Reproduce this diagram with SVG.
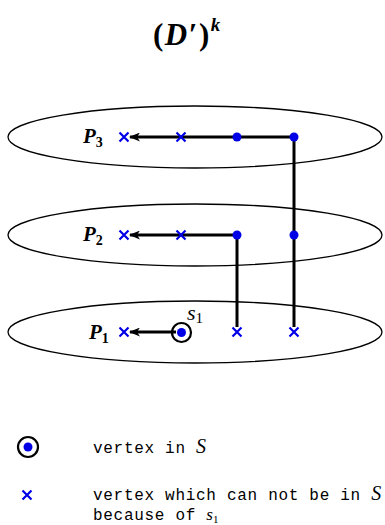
<svg xmlns="http://www.w3.org/2000/svg" width="385" height="525" viewBox="0 0 385 525">
<defs>
<style>
.plane{fill:none;stroke:#000;stroke-width:1.3}
.edge{fill:none;stroke:#000;stroke-width:3}
.dot{fill:#0000e6}
.x{stroke:#0000e6;stroke-width:2.2;fill:none}
.ring{fill:none;stroke:#000;stroke-width:2.2}
.lbl{font-family:"Liberation Serif",serif;font-style:italic;font-weight:bold;font-size:21px}
.sub{font-family:"Liberation Serif",serif;font-style:normal;font-weight:bold;font-size:14px}
.tt{font-family:"Liberation Mono",monospace;font-size:16px;letter-spacing:0.7px}
.it{font-family:"Liberation Serif",serif;font-style:italic;font-size:20px;letter-spacing:0}
</style>
<marker id="ah" viewBox="0 0 11 9" refX="10" refY="4.5" markerWidth="11" markerHeight="9" markerUnits="userSpaceOnUse" orient="auto">
<path d="M11,4.5 L0,0 L3,4.5 L0,9 Z" fill="#000"/>
</marker>
<path id="cx" d="M-4.5,-4.5 L4.5,4.5 M-4.5,4.5 L4.5,-4.5" class="x"/>
</defs>

<text x="153" y="45" font-family="Liberation Serif,serif" font-weight="bold" font-size="31" letter-spacing="1.5">(<tspan font-style="italic">D</tspan>′)<tspan font-style="italic" font-size="19" dy="-14">k</tspan></text>

<g id="plane3"><ellipse class="plane" cx="195" cy="137" rx="187" ry="31"/></g>
<g id="plane2"><ellipse class="plane" cx="195" cy="235" rx="187" ry="31"/></g>
<g id="plane1"><ellipse class="plane" cx="195" cy="332" rx="187" ry="31"/></g>

<g id="connectors">
<path class="edge" d="M294,137 L130,137" marker-end="url(#ah)"/>
<path class="edge" d="M294,137 L294,327"/>
<path class="edge" d="M237,235 L130,235" marker-end="url(#ah)"/>
<path class="edge" d="M237,235 L237,327"/>
<path class="edge" d="M176,332 L130,332" marker-end="url(#ah)"/>
</g>

<g id="P3"><text class="lbl" x="83" y="143">P<tspan class="sub" dy="4">3</tspan></text></g>
<g id="P2"><text class="lbl" x="83" y="241">P<tspan class="sub" dy="4">2</tspan></text></g>
<g id="P1"><text class="lbl" x="89" y="339">P<tspan class="sub" dy="4">1</tspan></text></g>

<g id="n3a"><use href="#cx" x="124" y="137"/></g>
<g id="n3b"><use href="#cx" x="181" y="137"/></g>
<g id="n3c"><circle class="dot" cx="237" cy="137" r="4.5"/></g>
<g id="n3d"><circle class="dot" cx="294" cy="137" r="4.5"/></g>

<g id="n2a"><use href="#cx" x="124" y="235"/></g>
<g id="n2b"><use href="#cx" x="181" y="235"/></g>
<g id="n2c"><circle class="dot" cx="237" cy="235" r="4.5"/></g>
<g id="n2d"><circle class="dot" cx="294" cy="235" r="4.5"/></g>

<g id="n1a"><use href="#cx" x="124" y="332"/></g>
<g id="s1"><circle class="ring" cx="181.5" cy="332.5" r="9.5"/><circle class="dot" cx="181.5" cy="332.5" r="4.5"/>
<text x="187" y="320" font-family="Liberation Serif,serif" font-style="italic" font-size="22">s<tspan font-style="normal" font-size="15" dy="3">1</tspan></text></g>
<g id="n1c"><use href="#cx" x="237" y="332"/></g>
<g id="n1d"><use href="#cx" x="294" y="332"/></g>

<g id="legend-s">
<circle class="ring" cx="28" cy="447" r="10"/><circle class="dot" cx="28" cy="447" r="4.5"/>
<text x="93" y="453" class="tt">vertex in <tspan class="it">S</tspan></text>
</g>
<g id="legend-x">
<use href="#cx" x="27" y="495"/>
<text x="93" y="500" class="tt">vertex which can not be in <tspan class="it">S</tspan></text>
<text x="93" y="520" class="tt">because of <tspan font-family="Liberation Serif,serif" font-style="italic" font-size="17" letter-spacing="0">s</tspan><tspan font-family="Liberation Serif,serif" font-size="11" dy="3" letter-spacing="0">1</tspan></text>
</g>
</svg>
